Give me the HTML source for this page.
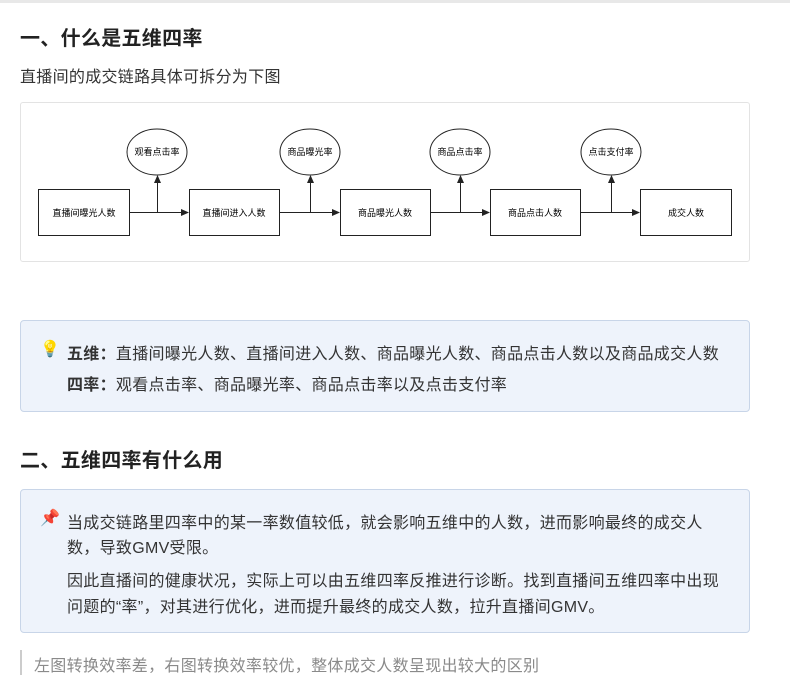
<!DOCTYPE html>
<html><head><meta charset="utf-8"><style>
body{margin:0;width:790px;height:691px;background:#fff;position:relative;overflow:hidden;font-family:"Liberation Sans","Noto Sans CJK SC",sans-serif;color:#333}
.a{position:absolute;white-space:nowrap}
.h{font-size:20px;font-weight:bold;color:#222;letter-spacing:0.3px}
.t{font-size:16px;color:#333;letter-spacing:0.3px}
.box{position:absolute;left:20px;width:728px;background:#eef3fb;border:1px solid #c8d5e8;border-radius:4px}
</style></head><body>
<div style="position:absolute;left:0;top:0;width:790px;height:3px;background:#e8e8e8"></div>
<div class="a h" style="left:20px;top:22px">一、什么是五维四率</div>
<div class="a t" style="left:20px;top:63px">直播间的成交链路具体可拆分为下图</div>
<div style="position:absolute;left:20px;top:102px;width:728px;height:158px;border:1px solid #e3e3e3;border-radius:3px"></div>
<svg style="position:absolute;left:0;top:0" width="790" height="300" font-family="Liberation Sans,Noto Sans CJK SC,sans-serif" font-size="9" fill="#000">
<defs><marker id="m" markerWidth="8" markerHeight="8" refX="7" refY="4" orient="auto" markerUnits="userSpaceOnUse"><path d="M0,0.5 L8,4 L0,7.5 z" fill="#222"/></marker></defs>
<g stroke="#222" stroke-width="1" fill="#fff">
<rect x="38.5" y="189.5" width="91" height="46"/>
<rect x="189.5" y="189.5" width="90" height="46"/>
<rect x="340.5" y="189.5" width="90" height="46"/>
<rect x="490.5" y="189.5" width="90" height="46"/>
<rect x="640.5" y="189.5" width="91" height="46"/>
<ellipse cx="157" cy="152" rx="30" ry="23"/>
<ellipse cx="310" cy="152" rx="30" ry="23"/>
<ellipse cx="460" cy="152" rx="30" ry="23"/>
<ellipse cx="611" cy="152" rx="30" ry="23"/>
<g fill="none" marker-end="url(#m)">
<line x1="130" y1="212.5" x2="188" y2="212.5"/>
<line x1="280" y1="212.5" x2="339" y2="212.5"/>
<line x1="431" y1="212.5" x2="489" y2="212.5"/>
<line x1="581" y1="212.5" x2="639" y2="212.5"/>
<line x1="157.5" y1="212" x2="157.5" y2="176"/>
<line x1="310.5" y1="212" x2="310.5" y2="176"/>
<line x1="460.5" y1="212" x2="460.5" y2="176"/>
<line x1="611.5" y1="212" x2="611.5" y2="176"/>
</g></g>
<g text-anchor="middle">
<text x="84" y="216">直播间曝光人数</text>
<text x="234" y="216">直播间进入人数</text>
<text x="385" y="216">商品曝光人数</text>
<text x="535" y="216">商品点击人数</text>
<text x="686" y="216">成交人数</text>
<text x="157" y="155">观看点击率</text>
<text x="310" y="155">商品曝光率</text>
<text x="460" y="155">商品点击率</text>
<text x="611" y="155">点击支付率</text>
</g></svg>
<div class="box" style="top:320px;height:90px"></div>
<div class="a" style="left:40px;top:339px;font-size:16px">💡</div>
<div class="a t" style="left:67px;top:340px"><b>五维：</b>直播间曝光人数、直播间进入人数、商品曝光人数、商品点击人数以及商品成交人数</div>
<div class="a t" style="left:67px;top:371px"><b>四率：</b>观看点击率、商品曝光率、商品点击率以及点击支付率</div>
<div class="a h" style="left:20px;top:444px">二、五维四率有什么用</div>
<div class="box" style="top:489px;height:142px"></div>
<div class="a" style="left:40px;top:508px;font-size:16px">📌</div>
<div class="a t" style="left:67px;top:509px">当成交链路里四率中的某一率数值较低，就会影响五维中的人数，进而影响最终的成交人</div>
<div class="a t" style="left:67px;top:534px">数，导致GMV受限。</div>
<div class="a t" style="left:67px;top:567px">因此直播间的健康状况，实际上可以由五维四率反推进行诊断。找到直播间五维四率中出现</div>
<div class="a t" style="left:67px;top:593px">问题的“率”，对其进行优化，进而提升最终的成交人数，拉升直播间GMV。</div>
<div style="position:absolute;left:20px;top:650px;width:2px;height:25px;background:#ccc"></div>
<div class="a t" style="left:34px;top:652px;color:#8a8a8a">左图转换效率差，右图转换效率较优，整体成交人数呈现出较大的区别</div>
</body></html>
